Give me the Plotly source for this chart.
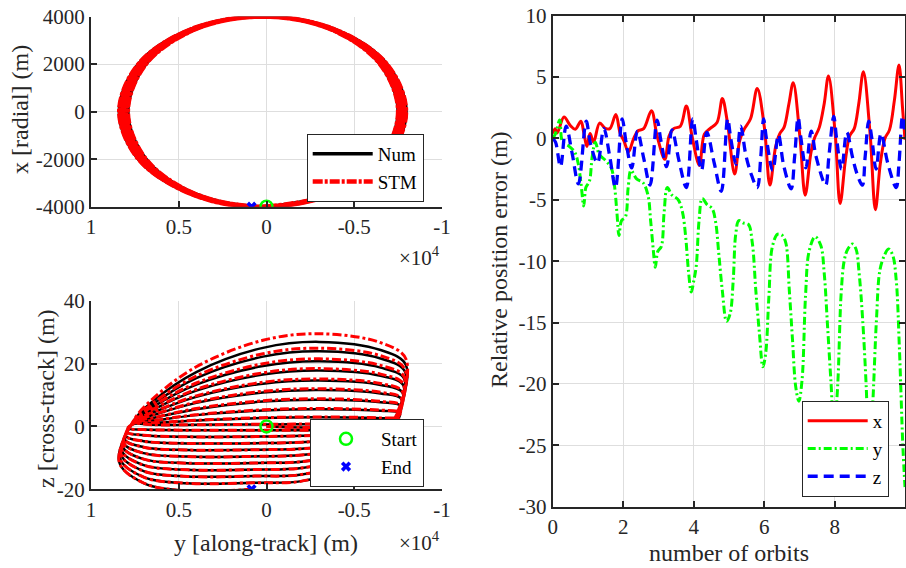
import plotly.graph_objects as go

W, H = 906, 568
FONT = "Liberation Serif"
INK = "#262626"
GRID = "#DEDEDE"

# ---------------- relative position error vs number of orbits ----------------
ERR_X_T = [0.00, 0.07, 0.13, 0.32, 0.50, 0.64, 0.80, 0.88, 0.97, 1.06, 1.16, 1.33, 1.48, 1.62,
           1.79, 1.91, 2.02, 2.15, 2.29, 2.41, 2.58, 2.80, 2.96, 3.18, 3.30, 3.43, 3.62, 3.79,
           3.95, 4.16, 4.30, 4.46, 4.66, 4.81, 4.95, 5.16, 5.30, 5.42, 5.61, 5.80, 6.00, 6.16,
           6.32, 6.44, 6.56, 6.70, 6.82, 7.01, 7.16, 7.32, 7.42, 7.56, 7.70, 7.82, 8.01, 8.15,
           8.30, 8.42, 8.55, 8.68, 8.81, 9.00, 9.15, 9.29, 9.42, 9.55, 9.69, 9.82, 9.92, 9.99]
ERR_X_V = [0.40, 0.80, 0.45, 1.75, 1.05, 0.75, 1.40, 0.50, -0.65, 0.40, -0.30, 1.25, 0.85, 0.80,
           1.95, 0.45, -0.20, -1.10, -0.05, 0.60, 0.80, 2.25, 0.20, -1.70, 0.20, 0.80, 1.00, 2.65,
           0.20, -2.20, 0.35, 0.80, 1.30, 3.25, 1.40, -2.90, -0.20, 0.70, 1.60, 4.07, 0.95, -3.80,
           -0.68, 0.40, 0.90, 2.85, 4.53, 0.13, -4.62, -1.20, 0.00, 0.90, 2.85, 5.08, 0.40, -5.30,
           -1.77, 0.20, 0.80, 2.85, 5.43, 0.40, -5.80, -2.04, 0.00, 0.70, 3.12, 5.98, 2.50, -0.10]

ERR_Y_T = [0.00, 0.08, 0.20, 0.28, 0.45, 0.62, 0.72, 0.80, 0.88, 0.94,
           1.00, 1.05, 1.12, 1.21, 1.32, 1.50, 1.66, 1.75, 1.82, 1.88,
           1.95, 2.06, 2.14, 2.22, 2.38, 2.56, 2.70, 2.78, 2.85, 2.91,
           2.98, 3.08, 3.16, 3.25, 3.38, 3.56, 3.68, 3.77, 3.85, 3.93,
           4.00, 4.07, 4.15, 4.24, 4.38, 4.52, 4.62, 4.71, 4.81, 4.93,
           5.03, 5.12, 5.19, 5.28, 5.42, 5.55, 5.66, 5.76, 5.86, 5.96,
           6.04, 6.13, 6.23, 6.38, 6.51, 6.61, 6.71, 6.80, 6.89, 6.98,
           7.07, 7.17, 7.27, 7.44, 7.60, 7.70, 7.79, 7.89, 7.98, 8.08,
           8.18, 8.27, 8.37, 8.50, 8.60, 8.69, 8.79, 8.89, 8.97, 9.07,
           9.18, 9.28, 9.41, 9.52, 9.64, 9.74, 9.83, 9.93, 9.99]
ERR_Y_V = [0.0, 0.4, 1.5, -0.3, -0.6, -1.1, -2.0, -3.6, -5.5, -4.0,
           -3.7, -3.4, -1.5, -0.3, -1.3, -1.8, -2.4, -3.8, -6.0, -7.9,
           -6.7, -6.4, -4.0, -2.6, -3.3, -3.6, -4.6, -6.8, -9.0, -10.5,
           -9.2, -8.8, -6.0, -4.0, -4.6, -5.0, -6.0, -8.0, -10.8, -12.5,
           -11.6, -10.4, -6.7, -4.9, -5.4, -5.7, -6.8, -9.4, -12.4, -14.9,
           -14.3, -11.5, -7.8, -6.7, -6.9, -7.0, -8.5, -12.4, -15.8, -18.6,
           -17.5, -12.9, -8.8, -7.8, -7.9, -8.5, -12.4, -16.4, -20.2, -21.4,
           -19.7, -12.8, -9.2, -8.0, -8.7, -11.0, -15.1, -19.8, -23.8, -20.2,
           -12.6, -9.9, -9.0, -8.6, -9.0, -11.0, -14.8, -20.2, -26.0, -21.9,
           -14.8, -10.7, -9.5, -9.0, -9.5, -11.5, -17.0, -25.1, -28.4]

ERR_Z_T = [0.00, 0.08, 0.22, 0.38, 0.55, 0.73, 0.95,
           1.07, 1.27, 1.45, 1.62, 1.78, 1.97,
           2.08, 2.24, 2.40, 2.58, 2.76, 2.96,
           3.07, 3.23, 3.38, 3.58, 3.79, 3.97,
           4.07, 4.22, 4.37, 4.58, 4.78, 4.96,
           5.05, 5.20, 5.33, 5.48, 5.64, 5.80, 5.90, 5.98,
           6.06, 6.24, 6.40, 6.55, 6.76, 6.86, 6.96,
           7.04, 7.18, 7.33, 7.47, 7.74, 7.83, 7.97,
           8.05, 8.19, 8.34, 8.50, 8.62, 8.78, 8.86, 8.96,
           9.05, 9.17, 9.31, 9.50, 9.74, 9.82, 9.92, 9.99]
ERR_Z_V = [0.0, -0.3, -2.3, 1.0, -1.2, -3.7, 1.4,
           -0.4, -2.0, 0.8, -1.5, -4.0, 1.6,
           -0.3, -2.4, 0.6, -1.6, -3.8, 1.5,
           -0.2, -2.3, 0.7, -1.8, -4.0, 1.6,
           -0.1, -2.6, 0.5, -2.0, -4.3, 1.6,
           0.0, -2.1, 1.0, -1.4, -3.0, -4.0, -1.5, 1.6,
           0.0, -2.6, 0.3, -2.2, -4.1, -1.5, 1.7,
           0.0, -2.4, 0.6, -1.5, -3.8, -1.5, 1.8,
           0.0, -2.5, 0.5, -1.5, -2.8, -3.8, -1.5, 1.4,
           0.0, -2.5, 0.4, -2.0, -4.0, -2.0, 1.8, 0.5]

# ---------------- relative trajectory, one entry per orbit ----------------
LAP_Y_BOTTOM = [0, 85, 170, 255, 340, 425, 510, 595, 680, 765]   # along-track at x = -4000
END_Y = 850
LAP_Y_LEFT = [7900, 7955, 8010, 8065, 8120, 8175, 8230, 8285, 8340, 8390]
LAP_Y_RIGHT = [-7500, -7550, -7600, -7650, -7700, -7750, -7800, -7850, -7900, -7950]
RADIAL_AMP = 4000

# cross-track value at successive along-track stations of every orbit
Z_BOTTOM = [0.0, -1.2, -3.2, -5.3, -7.4, -9.5, -11.6, -13.7, -15.8, -17.9]
Z_R_2000 = [-0.3, -1.2, -3.0, -5.0, -7.1, -9.1, -11.2, -13.2, -15.3, -17.4]
Z_R_5000 = [-0.2, -0.9, -2.2, -3.6, -5.0, -6.4, -7.8, -9.2, -10.6, -12.0]
Z_R_CROSS = [0.1, 0.2, 0.3, 0.3, 0.4, 0.4, 0.5, 0.5, 0.6, 0.6]
Z_R_TURN = [0.5, 2.2, 4.2, 6.4, 8.6, 10.7, 13.0, 15.1, 17.3, 19.5]
Z_U_6500R = [0.65, 2.6, 5.0, 7.7, 10.5, 13.2, 16.1, 18.7, 21.6, 24.3]
Z_U_PEAK = [0.7, 2.9, 5.5, 8.5, 11.6, 14.6, 17.8, 20.7, 23.9, 26.9]
Z_U_TOP = [0.65, 2.7, 5.1, 7.9, 10.8, 13.6, 16.5, 19.2, 22.2, 25.0]
Z_U_4000 = [0.5, 1.9, 3.6, 5.5, 7.5, 9.4, 11.4, 13.3, 15.4, 17.3]
Z_U_6500L = [0.5, 1.1, 1.8, 2.6, 3.5, 4.3, 5.2, 6.1, 7.0, 7.9]
Z_L_CROSS = [0.8, 1.0, 1.2, 1.3, 1.4, 1.5, 1.6, 1.7, 1.8, 1.9]
Z_L_TURN = [-0.6, -1.8, -3.0, -4.2, -5.4, -6.6, -7.8, -9.0, -10.2, -11.4]
Z_L_7000 = [-1.0, -2.8, -4.7, -6.6, -8.5, -10.4, -12.3, -14.2, -16.1, -18.0]
Z_L_TROUGH = [-1.2, -3.3, -5.4, -7.5, -9.6, -11.7, -13.8, -15.9, -18.1, -20.5]
END_Z = -20.0
STM_PEAK = [0.75, 3.0, 5.7, 8.8, 12.0, 15.1, 18.4, 21.5, 24.9, 29.5]

# ---------- radial / along-track path (x vs y), 12 stations per orbit ----------
RING_Y_FRAC = [0.0, -0.5, -0.866, -1.0, -0.866, -0.5, 0.0, 0.5, 0.866, 1.0, 0.866, 0.5]
RING_X_FRAC = [-1.0, -0.866, -0.5, 0.0, 0.5, 0.866, 1.0, 0.866, 0.5, 0.0, -0.5, -0.866]
p1_y, p1_x = [], []
for k in range(10):
    c = (LAP_Y_LEFT[k] + LAP_Y_RIGHT[k]) / 2
    half = (LAP_Y_LEFT[k] - LAP_Y_RIGHT[k]) / 2
    for j, (f, xr) in enumerate(zip(RING_Y_FRAC, RING_X_FRAC)):
        if j == 0:
            yy = LAP_Y_BOTTOM[k]
        elif j == 3:
            yy = LAP_Y_RIGHT[k]
        elif j == 9:
            yy = LAP_Y_LEFT[k]
        else:
            yy = c + f * half
        p1_y.append(yy)
        p1_x.append(xr * RADIAL_AMP)
p1_y.append(END_Y)
p1_x.append(-RADIAL_AMP)

# ---------- cross-track / along-track path (z vs y) ----------
p2_y, p2_z, p2_zs = [], [], []
for k in range(10):
    nodes = [
        (LAP_Y_BOTTOM[k], Z_BOTTOM[k]),
        (-2000, Z_R_2000[k]),
        (-5000, Z_R_5000[k]),
        (-7150, Z_R_CROSS[k]),
        (LAP_Y_RIGHT[k], Z_R_TURN[k]),
        (-6500, Z_U_6500R[k]),
        (-3000, Z_U_PEAK[k]),
        (200, Z_U_TOP[k]),
        (4000, Z_U_4000[k]),
        (6500, Z_U_6500L[k]),
        (7550, Z_L_CROSS[k]),
        (LAP_Y_LEFT[k], Z_L_TURN[k]),
        (7000, Z_L_7000[k]),
        (4500, Z_L_TROUGH[k]),
    ]
    ratio = STM_PEAK[k] / Z_U_PEAK[k]
    for yy, zz in nodes:
        p2_y.append(yy)
        p2_z.append(zz)
        p2_zs.append(zz * ratio if zz > 0 else zz)
p2_y.append(END_Y)
p2_z.append(END_Z)
p2_zs.append(END_Z)

fig = go.Figure()

# top-left: x vs y
fig.add_trace(go.Scatter(x=p1_y, y=p1_x, mode="lines", name="Num",
                         line=dict(color="black", width=3.5, shape="spline", smoothing=1),
                         xaxis="x", yaxis="y", legend="legend"))
fig.add_trace(go.Scatter(x=p1_y, y=p1_x, mode="lines", name="STM",
                         line=dict(color="#FF0000", width=4.5, dash="10px,2px,3px,2px",
                                   shape="spline", smoothing=1),
                         xaxis="x", yaxis="y", legend="legend"))
fig.add_trace(go.Scatter(x=[END_Y], y=[-RADIAL_AMP], mode="markers", showlegend=False,
                         marker=dict(symbol="x", size=9, color="#0000FF"),
                         xaxis="x", yaxis="y"))
fig.add_trace(go.Scatter(x=[0], y=[-RADIAL_AMP], mode="markers", showlegend=False,
                         marker=dict(symbol="circle-open", size=12, color="#00FF00",
                                     line=dict(width=2.5, color="#00FF00")),
                         xaxis="x", yaxis="y"))

# bottom-left: z vs y
fig.add_trace(go.Scatter(x=p2_y, y=p2_z, mode="lines", showlegend=False,
                         line=dict(color="black", width=2.5, shape="spline", smoothing=1),
                         xaxis="x2", yaxis="y2"))
fig.add_trace(go.Scatter(x=p2_y, y=p2_zs, mode="lines", showlegend=False,
                         line=dict(color="#FF0000", width=3, dash="9px,3px,3px,3px",
                                   shape="spline", smoothing=1),
                         xaxis="x2", yaxis="y2"))
fig.add_trace(go.Scatter(x=[0], y=[0], mode="markers", name="Start",
                         marker=dict(symbol="circle-open", size=12, color="#00FF00",
                                     line=dict(width=2.5, color="#00FF00")),
                         xaxis="x2", yaxis="y2", legend="legend2"))
fig.add_trace(go.Scatter(x=[END_Y], y=[END_Z], mode="markers", name="End",
                         marker=dict(symbol="x", size=9, color="#0000FF"),
                         xaxis="x2", yaxis="y2", legend="legend2"))

# right: position error
fig.add_trace(go.Scatter(x=ERR_X_T, y=ERR_X_V, mode="lines", name="x",
                         line=dict(color="#FF0000", width=3, shape="spline", smoothing=1),
                         xaxis="x3", yaxis="y3", legend="legend3"))
fig.add_trace(go.Scatter(x=ERR_Y_T, y=ERR_Y_V, mode="lines", name="y",
                         line=dict(color="#00FF00", width=3, dash="8px,3px,2px,3px",
                                   shape="spline", smoothing=1),
                         xaxis="x3", yaxis="y3", legend="legend3"))
fig.add_trace(go.Scatter(x=ERR_Z_T, y=ERR_Z_V, mode="lines", name="z",
                         line=dict(color="#0000FF", width=3.3, dash="10px,6px",
                                   shape="spline", smoothing=1),
                         xaxis="x3", yaxis="y3", legend="legend3"))


def px(v):
    return v / W


def py(v):
    return 1 - v / H


base = dict(showgrid=True, gridcolor=GRID, gridwidth=1, zeroline=False, showline=True,
            linecolor=INK, linewidth=2, ticks="inside", ticklen=6, tickwidth=1.5,
            tickcolor=INK, automargin=False,
            tickfont=dict(family=FONT, size=21, color=INK))

y_ticks_km = [10000, 5000, 0, -5000, -10000]
y_ticks_txt = ["1", "0.5", "0", "-0.5", "-1"]

legend_style = dict(bgcolor="white", bordercolor=INK, borderwidth=1,
                    font=dict(family=FONT, size=19, color="black"), tracegroupgap=0)

fig.update_layout(
    width=W, height=H, margin=dict(l=0, r=0, t=0, b=0, autoexpand=False),
    paper_bgcolor="white", plot_bgcolor="white",
    font=dict(family=FONT, color=INK),
    xaxis=dict(base, domain=[px(91), px(442)], range=[10000, -10000], anchor="y",
               tickvals=y_ticks_km, ticktext=y_ticks_txt),
    yaxis=dict(base, domain=[py(206.7), py(16.5)], range=[-4000, 4000], anchor="x",
               tickvals=[-4000, -2000, 0, 2000, 4000],
               ticktext=["-4000", "-2000", "0", "2000", "4000"]),
    xaxis2=dict(base, domain=[px(91), px(442)], range=[10000, -10000], anchor="y2",
                tickvals=y_ticks_km, ticktext=y_ticks_txt),
    yaxis2=dict(base, domain=[py(489.3), py(300.7)], range=[-20, 40], anchor="x2",
                tickvals=[-20, 0, 20, 40], ticktext=["-20", "0", "20", "40"]),
    xaxis3=dict(base, domain=[px(552.7), px(905)], range=[0, 9.99], anchor="y3",
                mirror="ticks", tickvals=[0, 2, 4, 6, 8]),
    yaxis3=dict(base, domain=[py(506.7), py(15.7)], range=[-30, 10], anchor="x3",
                mirror="ticks", tickvals=[-30, -25, -20, -15, -10, -5, 0, 5, 10],
                ticktext=["-30", "-25", "-20", "-15", "-10", "-5", "0", "5", "10"]),
    legend=dict(legend_style, x=px(306.7), y=py(168), xanchor="left", yanchor="middle",
                itemwidth=60),
    legend2=dict(legend_style, x=px(310), y=py(453), xanchor="left", yanchor="middle",
                 itemwidth=60),
    legend3=dict(legend_style, x=px(801.7), y=py(449), xanchor="left", yanchor="middle",
                 itemwidth=60),
)

title_font = dict(family=FONT, size=24, color=INK)
annos = [
    dict(text="x [radial] (m)", x=px(20), y=py(110), textangle=-90),
    dict(text="z [cross-track] (m)", x=px(46), y=py(399), textangle=-90),
    dict(text="y [along-track] (m)", x=px(266), y=py(543), textangle=0),
    dict(text="Relative position error (m)", x=px(499), y=py(260), textangle=-90),
    dict(text="number of orbits", x=px(728.5), y=py(553), textangle=0),
]
for a in annos:
    fig.add_annotation(xref="paper", yref="paper", showarrow=False,
                       xanchor="center", yanchor="middle", font=title_font, **a)
for yy in (256, 541):
    fig.add_annotation(xref="paper", yref="paper", showarrow=False, x=px(419), y=py(yy),
                       xanchor="center", yanchor="middle", text="\u00d710<sup>4</sup>",
                       font=dict(family=FONT, size=21, color=INK))

fig.write_html("out.html")
